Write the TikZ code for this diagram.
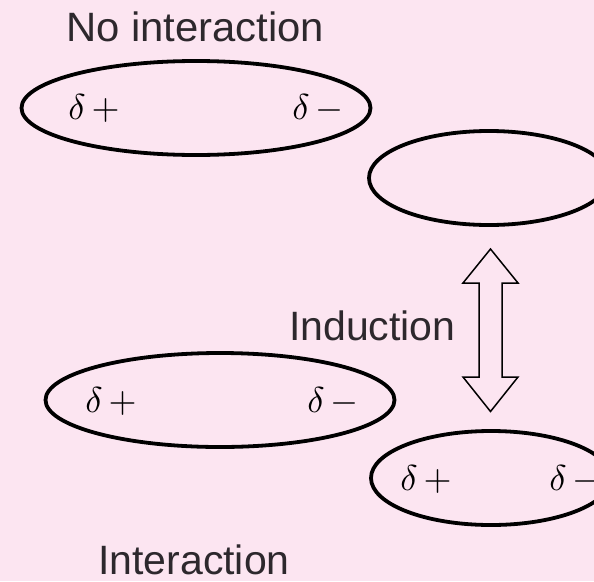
\documentclass[tikz,border=0pt]{standalone}
\usepackage{fontspec}
\newfontfamily\labfont{Liberation Sans}
\usetikzlibrary{shapes.geometric}
\definecolor{bgpink}{RGB}{252,229,241}
\definecolor{txtgray}{RGB}{45,40,45}
\tikzset{
  mol/.style={ellipse, draw=black, line width=3.8pt, inner sep=0pt, outer sep=0pt},
  bigmol/.style={mol, minimum width=349pt, minimum height=94pt},
  smallmol/.style={mol, minimum width=240pt, minimum height=94pt},
  charge/.style={inner sep=0pt, scale=3.6},
  caption/.style={inner sep=0pt, anchor=base west, text=txtgray, font=\labfont\fontsize{41}{50}\selectfont},
  hollow/.style={draw=black, line width=1.5pt, line join=miter, fill=bgpink}
}
\newcommand\dplus{$\delta\mkern3mu+$}
\newcommand\dminus{$\delta\mkern3mu-$}
\begin{document}
\begin{tikzpicture}[x=1pt, y=-1pt]
\useasboundingbox (0,0) rectangle (594,581);
\clip (0,0) rectangle (594,581);
\fill[bgpink] (0,0) rectangle (594,581);

\node[caption, xscale=1.02] (noint) at (66,41) {No interaction};
\node[caption] (induc) at (289,340) {Induction};
\node[caption] (inter) at (98,574) {Interaction};

\node[bigmol] (m1) at (196,108) {};
\node[smallmol] (m2) at (489,178) {};
\node[bigmol] (m3) at (220,400) {};
\node[smallmol] (m4) at (491,478) {};

\node[charge] (m1p) at (94,108) {\dplus};
\node[charge] (m1m) at (318,108) {\dminus};
\node[charge] (m3p) at (111,401) {\dplus};
\node[charge] (m3m) at (333,401) {\dminus};
\node[charge] (m4p) at (426,479) {\dplus};
\node[charge] (m4m) at (575,479) {\dminus};

\coordinate (ac) at (490.5,330.5);
\draw[hollow] (ac) ++(0,-81.5) -- ++(27.5,34) -- ++(-16,0) -- ++(0,94) -- ++(16,0)
  -- ++(-27.5,34.5) -- ++(-27.5,-34.5) -- ++(16,0) -- ++(0,-94) -- ++(-16,0) -- cycle;
\end{tikzpicture}
\end{document}
